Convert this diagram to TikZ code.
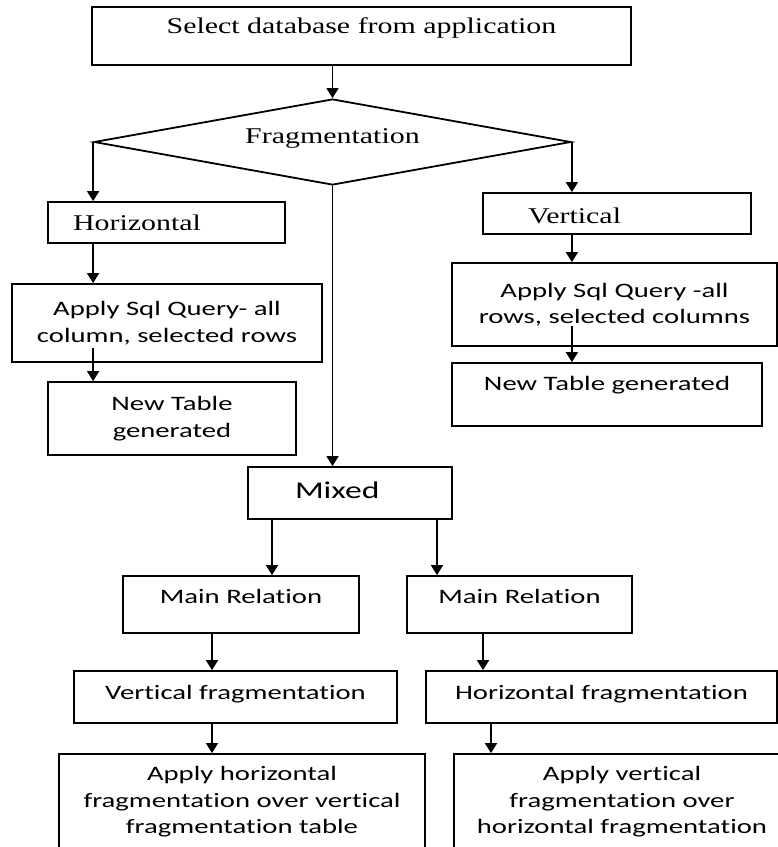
\documentclass[tikz,border=0pt]{standalone}
\usepackage{fontspec}
\usetikzlibrary{shapes.geometric,arrows.meta}
\newfontfamily\tnr[FakeStretch=1.33]{Liberation Serif}
\newfontfamily\cbr[FakeStretch=1.4,Ligatures=NoCommon]{Carlito}

\begin{document}
\begin{tikzpicture}[x=1pt,y=-1pt,
  box/.style={draw,line width=1.8pt,inner sep=0pt,align=center},
  serif/.style={font=\fontsize{22.5}{27}\tnr},
  sans/.style={font=\fontsize{20.5}{26.5}\cbr},
  arr/.style={line width=1.8pt,-{Triangle[width=12pt,length=10pt]}}]
\clip (0,0) rectangle (778,847);
% top part: database and the choice of fragmentation
\node[box,serif,minimum width=539pt,minimum height=58pt,text height=15.4pt,text depth=20.4pt] (sel) at (361.5,36) {Select database from application};
\node[draw,diamond,aspect=5.5,line width=1.8pt,inner sep=0pt,serif,minimum width=477pt,minimum height=86pt,text height=15.4pt,text depth=13.4pt] (frag) at (332.5,142) {Fragmentation};
\node[box,serif,minimum height=41pt,text width=187pt,inner xsep=25pt,align=left,text height=15.4pt,text depth=0pt] (hor) at (166.5,222.5) {Horizontal};
\node[box,serif,minimum height=41pt,text width=178pt,inner xsep=45pt,align=left,text height=19pt,text depth=0pt] (ver) at (617,213.5) {Vertical};
% horizontal branch
\node[box,sans,minimum width=310pt,minimum height=78pt] (applyL) at (167,323) {Apply Sql Query- all\\column, selected rows};
\node[box,sans,minimum width=248pt,minimum height=73pt] (tblL) at (172,418.5) {New Table\\generated};
% vertical branch
\node[box,sans,minimum width=325pt,minimum height=83pt] (applyR) at (614.5,304.5) {Apply Sql Query -all\\rows, selected columns};
\node[box,sans,minimum width=310pt,minimum height=63pt,text height=15pt,text depth=24pt] (tblR) at (607,394.5) {New Table generated};
% mixed branch
\node[box,font=\fontsize{24}{28}\cbr,minimum height=52pt,text width=110pt,inner xsep=47pt,align=left,text height=17pt,text depth=6pt] (mixed) at (350,493) {Mixed};
\node[box,sans,minimum width=236pt,minimum height=57pt,text height=15pt,text depth=17pt] (mainL) at (241,604.5) {Main Relation};
\node[box,sans,minimum width=225pt,minimum height=57pt,text height=15pt,text depth=17pt] (mainR) at (519.5,604.5) {Main Relation};
\node[box,sans,minimum width=323pt,minimum height=52pt,text height=15pt,text depth=11pt] (vfrag) at (235.5,697) {Vertical fragmentation};
\node[box,sans,minimum width=351pt,minimum height=52pt,text height=15pt,text depth=11pt] (hfrag) at (601.5,697) {Horizontal fragmentation};
\node[box,sans,minimum width=366pt,minimum height=96pt] (applyHV) at (242,802) {Apply horizontal\\fragmentation over vertical\\fragmentation table};
\node[box,sans,minimum width=336pt,minimum height=96pt] (applyVH) at (622,802) {Apply vertical\\fragmentation over\\horizontal fragmentation};
% columns of the lower arrows
\coordinate (colA) at (272,0);
\coordinate (colB) at (437,0);
\coordinate (colC) at (212,0);
\coordinate (colD) at (483,0);
\coordinate (colE) at (491,0);
\draw[arr] (frag.north |- sel.south) -- (frag.north);
\draw[arr] (frag.west) -- (frag.west |- hor.north);
\draw[arr] (frag.east) -- (frag.east |- ver.north);
\draw[arr] (frag.south) -- (frag.south |- mixed.north);
\draw[arr] (frag.west |- hor.south) -- (frag.west |- applyL.north);
\draw[arr] ([yshift=15pt]frag.west |- applyL.south) -- (frag.west |- tblL.north);
\draw[arr] (frag.east |- ver.south) -- (frag.east |- applyR.north);
\draw[arr] ([yshift=21pt]frag.east |- applyR.south) -- (frag.east |- tblR.north);
\draw[arr] (colA |- mixed.south) -- (colA |- mainL.north);
\draw[arr] (colB |- mixed.south) -- (colB |- mainR.north);
\draw[arr] (colC |- mainL.south) -- (colC |- vfrag.north);
\draw[arr] (colC |- vfrag.south) -- (colC |- applyHV.north);
\draw[arr] (colD |- mainR.south) -- (colD |- hfrag.north);
\draw[arr] (colE |- hfrag.south) -- (colE |- applyVH.north);
\end{tikzpicture}
\end{document}
